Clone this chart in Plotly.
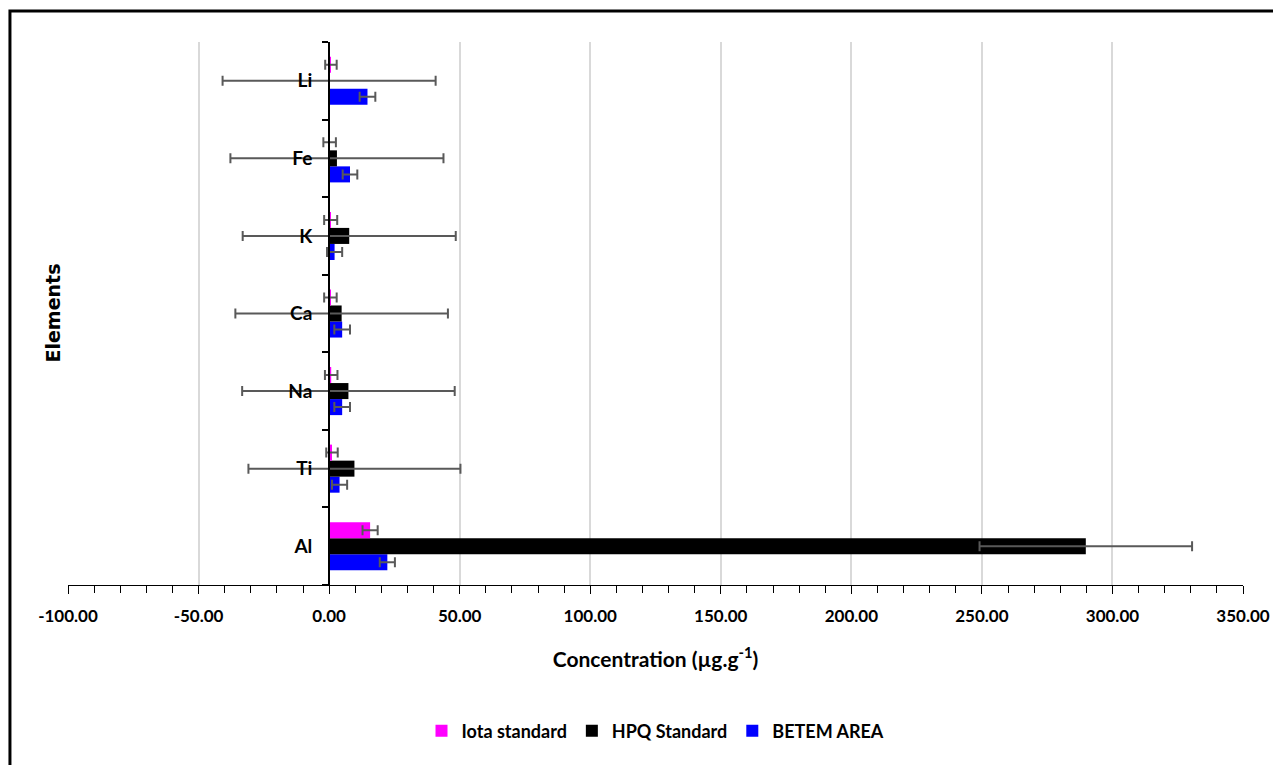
import plotly.graph_objects as go

elements = ["Al", "Ti", "Na", "Ca", "K", "Fe", "Li"]

iota_vals = [15.7, 1.1, 0.8, 0.5, 0.6, 0.2, 0.7]
iota_err = [2.9, 2.2, 2.4, 2.4, 2.5, 2.4, 2.2]

hpq_vals = [289.8, 9.7, 7.4, 4.8, 7.7, 3.0, 0.0]
hpq_err = [40.7, 40.6, 40.7, 40.7, 40.8, 40.8, 40.8]

betem_vals = [22.3, 4.0, 5.0, 5.0, 2.1, 8.0, 14.7]
betem_err = [2.9, 2.9, 3.0, 3.0, 2.9, 2.8, 3.0]

series_names = ["Iota standard", "HPQ Standard", "BETEM AREA"]
series_colors = ["#FF00FF", "#000000", "#0000FF"]

x_ticks = [-100, -50, 0, 50, 100, 150, 200, 250, 300, 350]
x_tick_labels = ["-100.00", "-50.00", "0.00", "50.00", "100.00", "150.00",
                 "200.00", "250.00", "300.00", "350.00"]

FONT = "Lato"
err_style = dict(type="data", symmetric=True, color="#595959", thickness=2, width=5)

fig = go.Figure()
data = [(iota_vals, iota_err), (hpq_vals, hpq_err), (betem_vals, betem_err)]
# add in reverse so that the first series sits on top of each group
for i in reversed(range(3)):
    vals, errs = data[i]
    fig.add_trace(go.Bar(
        y=elements, x=vals, orientation="h", name=series_names[i],
        marker=dict(color=series_colors[i], line=dict(width=0)),
        error_x=dict(array=errs, **err_style),
    ))

# page has an 8px body margin, so the figure is 8px smaller than the window
fig.update_layout(
    width=1273, height=757,
    margin=dict(l=60, r=38, t=34, b=180),
    paper_bgcolor="white", plot_bgcolor="white",
    barmode="group", bargap=0.38, bargroupgap=0,
    font=dict(family=FONT, color="black"),
    showlegend=True,
    legend=dict(orientation="h", x=0.5, xanchor="center", y=-0.269, yanchor="middle",
                font=dict(family=FONT, size=18, color="black", weight="bold"),
                traceorder="reversed", itemwidth=30),
    xaxis=dict(
        range=[-100, 350], tickvals=x_ticks, ticktext=x_tick_labels,
        showgrid=True, gridcolor="#D9D9D9", gridwidth=2,
        zeroline=False, showline=True, linecolor="black", linewidth=1,
        ticks="outside", ticklen=8, tickcolor="black", ticklabelstandoff=8,
        minor=dict(dtick=10, ticks="outside", ticklen=7, tickcolor="black", showgrid=False),
        tickfont=dict(family=FONT, size=17, color="black", weight="bold"),
        title=dict(text="Concentration (µg.g<sup>-1</sup>)", standoff=26,
                   font=dict(family=FONT, size=21, color="black", weight="bold")),
    ),
    yaxis=dict(
        categoryorder="array", categoryarray=elements,
        anchor="free", position=(0 - (-100)) / 450,
        showline=True, linecolor="black", linewidth=2,
        ticks="outside", tickson="boundaries", ticklen=6, tickcolor="black", tickwidth=2,
        ticklabelstandoff=12,
        showgrid=False, zeroline=False,
        tickfont=dict(family=FONT, size=19, color="black", weight="bold"),
    ),
    annotations=[dict(
        text="Elements", xref="paper", yref="paper", x=-0.0136, y=0.5,
        textangle=-90, showarrow=False, xanchor="center", yanchor="middle",
        font=dict(family="DejaVu Sans", size=19, color="black", weight="bold"),
    )],
    shapes=[dict(
        type="rect", xref="paper", yref="paper",
        x0=-0.0494, x1=1.1, y0=-0.5, y1=1.0571,
        line=dict(color="black", width=3), layer="above",
    )],
)

fig.write_html("out.html")
